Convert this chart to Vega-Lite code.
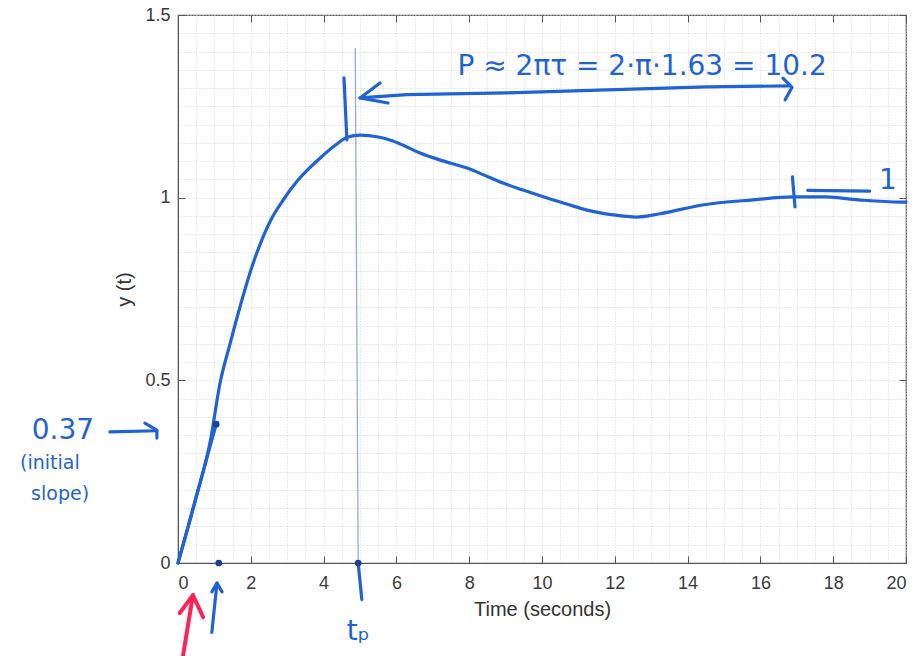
{
  "$schema": "https://vega.github.io/schema/vega-lite/v6.json",
  "width": 728,
  "height": 548,
  "autosize": {"type": "none"},
  "padding": {"left": 178, "top": 15, "right": 12, "bottom": 93},
  "background": "white",
  "config": {
    "view": {"stroke": "#555555", "strokeWidth": 1.2},
    "font": "Liberation Sans"
  },
  "datasets": {
    "curve": [
      {"t": 0, "y": 0}, {"t": 0.5, "y": 0.18}, {"t": 0.9, "y": 0.34}, {"t": 1.15, "y": 0.49},
      {"t": 1.43, "y": 0.6}, {"t": 1.7, "y": 0.7}, {"t": 2.03, "y": 0.81}, {"t": 2.53, "y": 0.935},
      {"t": 2.9, "y": 0.995}, {"t": 3.27, "y": 1.045}, {"t": 3.6, "y": 1.08}, {"t": 3.9, "y": 1.108},
      {"t": 4.3, "y": 1.142}, {"t": 4.67, "y": 1.166}, {"t": 5.0, "y": 1.171}, {"t": 5.5, "y": 1.166},
      {"t": 5.82, "y": 1.158}, {"t": 6.2, "y": 1.143}, {"t": 6.65, "y": 1.122}, {"t": 7.3, "y": 1.1},
      {"t": 7.94, "y": 1.081}, {"t": 8.5, "y": 1.058}, {"t": 8.93, "y": 1.04}, {"t": 9.5, "y": 1.02},
      {"t": 10.14, "y": 0.999}, {"t": 10.7, "y": 0.982}, {"t": 11.24, "y": 0.966}, {"t": 11.95, "y": 0.953},
      {"t": 12.6, "y": 0.947}, {"t": 13.24, "y": 0.956}, {"t": 14.4, "y": 0.98}, {"t": 15.8, "y": 0.994},
      {"t": 16.9, "y": 1.002}, {"t": 17.8, "y": 1.002}, {"t": 18.7, "y": 0.994}, {"t": 19.84, "y": 0.988},
      {"t": 20, "y": 0.988}
    ],
    "strokes": [
      {"seg": "tangent", "i": 0, "t": 0, "y": 0}, {"seg": "tangent", "i": 1, "t": 1.05, "y": 0.38},
      {"seg": "peak", "i": 0, "t": 4.56, "y": 1.328}, {"seg": "peak", "i": 1, "t": 4.64, "y": 1.158},
      {"seg": "span", "i": 0, "t": 5.0, "y": 1.273}, {"seg": "span", "i": 1, "t": 6.29, "y": 1.282},
      {"seg": "span", "i": 2, "t": 9.04, "y": 1.287}, {"seg": "span", "i": 3, "t": 11.79, "y": 1.295},
      {"seg": "span", "i": 4, "t": 14.53, "y": 1.303}, {"seg": "span", "i": 5, "t": 16.81, "y": 1.306},
      {"seg": "headL", "i": 0, "t": 5.55, "y": 1.314}, {"seg": "headL", "i": 1, "t": 5.0, "y": 1.273},
      {"seg": "headL", "i": 2, "t": 5.77, "y": 1.259},
      {"seg": "headR", "i": 0, "t": 16.62, "y": 1.327}, {"seg": "headR", "i": 1, "t": 16.87, "y": 1.302},
      {"seg": "headR", "i": 2, "t": 16.68, "y": 1.268},
      {"seg": "tick17", "i": 0, "t": 16.88, "y": 1.057}, {"seg": "tick17", "i": 1, "t": 16.95, "y": 0.975},
      {"seg": "dash1", "i": 0, "t": 17.3, "y": 1.02}, {"seg": "dash1", "i": 1, "t": 19.0, "y": 1.018},
      {"seg": "yarrow", "i": 0, "t": -1.87, "y": 0.359}, {"seg": "yarrow", "i": 1, "t": -0.58, "y": 0.362},
      {"seg": "yhead", "i": 0, "t": -0.91, "y": 0.383}, {"seg": "yhead", "i": 1, "t": -0.58, "y": 0.364},
      {"seg": "yhead", "i": 2, "t": -0.58, "y": 0.342},
      {"seg": "tp", "i": 0, "t": 4.95, "y": 0}, {"seg": "tp", "i": 1, "t": 5.05, "y": -0.1},
      {"seg": "oneArrow", "i": 0, "t": 0.93, "y": -0.19}, {"seg": "oneArrow", "i": 1, "t": 1.07, "y": -0.055},
      {"seg": "oneHead", "i": 0, "t": 0.93, "y": -0.079}, {"seg": "oneHead", "i": 1, "t": 1.07, "y": -0.055},
      {"seg": "oneHead", "i": 2, "t": 1.21, "y": -0.079}
    ],
    "redArrow": [
      {"seg": "shaft", "i": 0, "t": 0.14, "y": -0.252}, {"seg": "shaft", "i": 1, "t": 0.41, "y": -0.088},
      {"seg": "head", "i": 0, "t": 0.05, "y": -0.137}, {"seg": "head", "i": 1, "t": 0.41, "y": -0.088},
      {"seg": "head", "i": 2, "t": 0.69, "y": -0.148}
    ],
    "thin": [
      {"t": 4.87, "y": 1.41}, {"t": 4.95, "y": 0}
    ],
    "dots": [
      {"t": 1.05, "y": 0.38}, {"t": 1.12, "y": 0}, {"t": 4.95, "y": 0}
    ],
    "bigText": [
      {"label": "P ≈ 2πτ = 2·π·1.63 = 10.2", "t": 12.75, "y": 1.358},
      {"label": "0.37", "t": -3.16, "y": 0.361},
      {"label": "tₚ", "t": 4.95, "y": -0.19},
      {"label": "1", "t": 19.5, "y": 1.045}
    ],
    "smallText": [
      {"label": "(initial", "t": -3.52, "y": 0.274},
      {"label": "slope)", "t": -3.24, "y": 0.189}
    ]
  },
  "layer": [
    {
      "data": {"name": "curve"},
      "mark": {"type": "line", "color": "#1f63d6", "strokeWidth": 3.2, "interpolate": "monotone", "strokeCap": "round"},
      "encoding": {
        "x": {"field": "t", "type": "quantitative", "scale": {"domain": [0, 20], "nice": false},
          "axis": {"orient": "bottom",
            "tickCount": 40,
            "labelExpr": "(round(datum.value * 10) % 20 === 0) ? format(datum.value, '~g') : ''",
            "labelOverlap": false,
            "grid": true, "gridColor": "#d2d2d2", "gridDash": [1, 2], "gridWidth": 1,
            "tickSize": -7, "tickColor": "#555555",
            "tickOpacity": {"condition": {"test": "round(datum.value * 10) % 20 === 0", "value": 1}, "value": 0},
            "domainColor": "#555555",
            "labelFontSize": 18, "labelColor": "#3a3a3a", "labelPadding": 18, "labelFont": "Liberation Sans",
            "title": "Time (seconds)", "titleFontSize": 20, "titleFontWeight": "normal", "titleColor": "#333333", "titlePadding": 7, "titleFont": "Liberation Sans"}},
        "y": {"field": "y", "type": "quantitative", "scale": {"domain": [0, 1.5], "nice": false},
          "axis": {"orient": "left",
            "tickCount": 30,
            "labelExpr": "(round(datum.value * 100) % 50 === 0) ? format(datum.value, '~g') : ''",
            "labelOverlap": false,
            "grid": true, "gridColor": "#d2d2d2", "gridDash": [1, 2], "gridWidth": 1,
            "tickSize": -7, "tickColor": "#555555",
            "tickOpacity": {"condition": {"test": "round(datum.value * 100) % 50 === 0", "value": 1}, "value": 0},
            "domainColor": "#555555",
            "labelFontSize": 18, "labelColor": "#3a3a3a", "labelPadding": 15, "labelFont": "Liberation Sans",
            "title": "y (t)", "titleFontSize": 20, "titleFontWeight": "normal", "titleColor": "#333333", "titlePadding": 10, "titleFont": "Liberation Sans"}}
      }
    },
    {
      "data": {"name": "curve"},
      "mark": {"type": "line", "opacity": 0},
      "encoding": {
        "x": {"field": "t", "type": "quantitative", "scale": {"domain": [0, 20], "nice": false},
          "axis": {"orient": "top", "tickCount": 10, "grid": false, "labels": false, "tickSize": -7, "tickColor": "#555555", "domain": false, "title": null}},
        "y": {"field": "y", "type": "quantitative", "scale": {"domain": [0, 1.5], "nice": false},
          "axis": {"orient": "right", "tickCount": 3, "grid": false, "labels": false, "tickSize": -7, "tickColor": "#555555", "domain": false, "title": null}}
      }
    },
    {
      "data": {"name": "thin"},
      "mark": {"type": "line", "color": "#2a6ee0", "strokeWidth": 1.3, "opacity": 0.55},
      "encoding": {
        "x": {"field": "t", "type": "quantitative", "axis": null},
        "y": {"field": "y", "type": "quantitative", "axis": null}
      }
    },
    {
      "data": {"name": "strokes"},
      "mark": {"type": "line", "color": "#1f63d6", "strokeWidth": 3.2, "strokeCap": "round", "strokeJoin": "round"},
      "encoding": {
        "x": {"field": "t", "type": "quantitative", "axis": null},
        "y": {"field": "y", "type": "quantitative", "axis": null},
        "detail": {"field": "seg"},
        "order": {"field": "i"}
      }
    },
    {
      "data": {"name": "redArrow"},
      "mark": {"type": "line", "color": "#ff2457", "strokeWidth": 4, "strokeCap": "round", "strokeJoin": "round"},
      "encoding": {
        "x": {"field": "t", "type": "quantitative", "axis": null},
        "y": {"field": "y", "type": "quantitative", "axis": null},
        "detail": {"field": "seg"},
        "order": {"field": "i"}
      }
    },
    {
      "data": {"name": "dots"},
      "mark": {"type": "point", "filled": true, "color": "#1a3f9a", "size": 45, "opacity": 1},
      "encoding": {
        "x": {"field": "t", "type": "quantitative", "axis": null},
        "y": {"field": "y", "type": "quantitative", "axis": null}
      }
    },
    {
      "data": {"name": "bigText"},
      "mark": {"type": "text", "color": "#1f63d6", "fontSize": 28, "font": "DejaVu Sans", "align": "center", "baseline": "middle"},
      "encoding": {
        "x": {"field": "t", "type": "quantitative", "axis": null},
        "y": {"field": "y", "type": "quantitative", "axis": null},
        "text": {"field": "label"}
      }
    },
    {
      "data": {"name": "smallText"},
      "mark": {"type": "text", "color": "#1f63d6", "fontSize": 19, "font": "DejaVu Sans", "align": "center", "baseline": "middle"},
      "encoding": {
        "x": {"field": "t", "type": "quantitative", "axis": null},
        "y": {"field": "y", "type": "quantitative", "axis": null},
        "text": {"field": "label"}
      }
    }
  ],
  "resolve": {"axis": {"x": "independent", "y": "independent"}}
}
